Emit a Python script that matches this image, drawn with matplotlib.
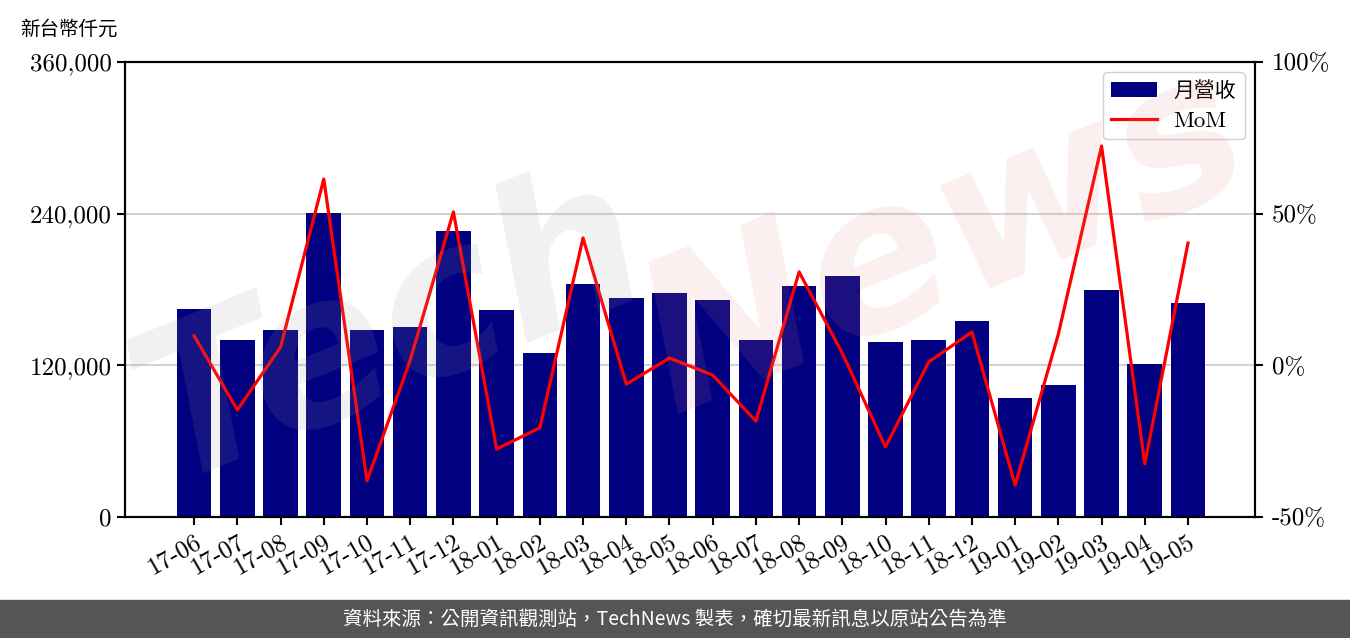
import matplotlib
matplotlib.use("Agg")
import matplotlib.pyplot as plt
import numpy as np
from matplotlib.ticker import FuncFormatter

months = ["17-06", "17-07", "17-08", "17-09", "17-10", "17-11", "17-12",
          "18-01", "18-02", "18-03", "18-04", "18-05", "18-06", "18-07",
          "18-08", "18-09", "18-10", "18-11", "18-12",
          "19-01", "19-02", "19-03", "19-04", "19-05"]
revenue = [164600, 140000, 148000, 240500, 148000, 150300, 226300,
           163800, 129800, 184400, 173300, 177200, 171700, 140000,
           182800, 190700, 138500, 140000, 155100,
           94200, 104400, 179600, 121100, 169300]
mom = [9.7, -14.7, 6.0, 61.4, -38.1, 1.7, 50.6,
       -27.6, -20.6, 42.0, -6.2, 2.4, -3.2, -18.4,
       30.8, 4.0, -26.9, 1.1, 11.0,
       -39.5, 10.3, 72.3, -32.5, 40.3]

serif = ["cmr10", "Noto Sans CJK TC", "DejaVu Sans"]
cjk = ["Noto Sans CJK TC", "DejaVu Sans"]
plt.rcParams['font.family'] = serif

fig = plt.figure(figsize=(13.5, 6.38), dpi=100)
ax = fig.add_axes([0.0926, 0.1897, 0.837, 0.7131])

x = np.arange(len(months))
bars = ax.bar(x, revenue, width=0.8, color="#000080", label="月營收", zorder=2)
ax.set_ylim(0, 360000)
ax.set_yticks([0, 120000, 240000, 360000])
ax.yaxis.set_major_formatter(FuncFormatter(lambda v, p: f"{int(v):,}"))
ax.grid(axis='y', color="#d3d3d3", linewidth=1.5, zorder=0)
ax.set_axisbelow(True)
ax.set_xlim(-1.6, 24.55)
ax.set_xticks(x)
ax.set_xticklabels(months, rotation=30, ha='right', rotation_mode='anchor')
ax.tick_params(axis='both', labelsize=18, width=1.5, length=6)

ax2 = ax.twinx()
line, = ax2.plot(x, mom, color="red", linewidth=2.3, label="MoM")
ax2.set_ylim(-50, 100)
ax2.set_yticks([-50, 0, 50, 100])
ax2.yaxis.set_major_formatter(FuncFormatter(lambda v, p: f"{int(v)}%"))
ax2.tick_params(axis='y', labelsize=18, width=1.5, length=6, pad=6)

for a in (ax, ax2):
    for s in a.spines.values():
        s.set_linewidth(1.5)

leg = ax2.legend([bars, line], ["月營收", "MoM"], loc="upper right",
                 prop={'family': serif, 'size': 15}, handlelength=2.2, borderpad=0.4,
                 framealpha=0.9, edgecolor="#cccccc")
leg.get_texts()[1].set_fontsize(16.5)

fig.text(0.015, 0.955, "新台幣仟元", fontsize=14, family=cjk, va='center')

# watermark
fig.text(0.29, 0.48, "Tech", fontsize=150, color="#999999", alpha=0.14,
         rotation=22, ha='center', va='center', style='italic',
         weight='bold', family="DejaVu Sans", zorder=10)
fig.text(0.7, 0.62, "News", fontsize=150, color="#e08080", alpha=0.13,
         rotation=22, ha='center', va='center', style='italic',
         weight='bold', family="DejaVu Sans", zorder=10)

# footer
fig.patches.append(plt.Rectangle((0, 0), 1, 38 / 638, transform=fig.transFigure,
                                 color="#555555", zorder=0))
fig.text(0.5, 19 / 638, "資料來源：公開資訊觀測站，TechNews 製表，確切最新訊息以原站公告為準",
         color="white", fontsize=14, family=cjk, ha='center', va='center')

fig.savefig("out.png", dpi=100)
